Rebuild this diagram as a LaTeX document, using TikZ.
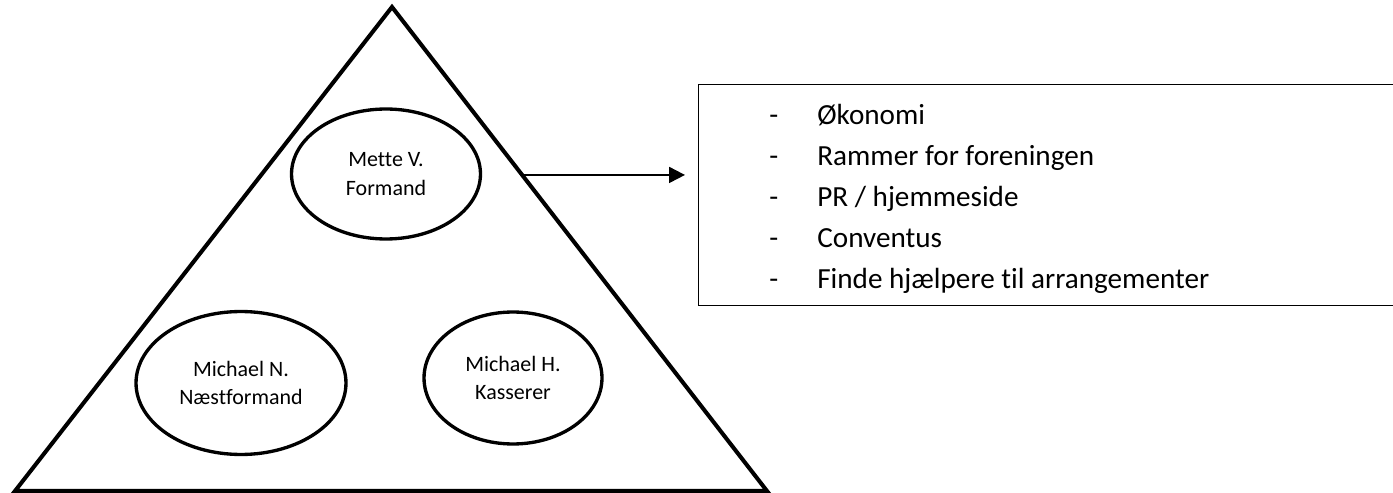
\documentclass[tikz,border=0pt]{standalone}
\usepackage{fontspec}
\setmainfont{Carlito}[Ligatures=CommonOff]
\usetikzlibrary{shapes.geometric,arrows.meta,calc}

\begin{document}
\begin{tikzpicture}[x=0.02cm,y=-0.02cm,
    member/.style={draw,ellipse,line width=1.9pt,inner sep=0pt,align=center,
      font=\fontsize{12.5}{16.4}\selectfont},
    task/.style={anchor=base west,inner sep=0pt,font=\fontsize{16.6}{19}\selectfont}]
  \useasboundingbox (0,0) rectangle (1393,493);
  % pyramid
  \coordinate (apex) at (392,7);
  \coordinate (left) at (15,491);
  \coordinate (right) at (767,491);
  \draw[line width=2.3pt] (apex) -- (left) -- (right) -- cycle;
  % board members
  \node[member,minimum width=3.78cm,minimum height=2.6cm] (formand) at (386,174) {Mette V.\\Formand};
  \node[member,minimum width=4.2cm,minimum height=2.86cm] (naestformand) at (241,383) {Michael N.\\Næstformand};
  \node[member,minimum width=3.56cm,minimum height=2.64cm] (kasserer) at (513,378) {Michael H.\\Kasserer};
  % tasks
  \node[draw,line width=0.8pt,anchor=north west,minimum width=14.2cm,minimum height=4.42cm] (tasks) at (698,84) {};
  \coordinate (side) at ($(apex)!0.347!(right)$);
  \draw[line width=1.1pt,-{Triangle[length=9pt,width=9pt]},shorten >=13*0.02cm] (side) -- (side -| tasks.west);
  \foreach \txt [count=\i] in {Økonomi, Rammer for foreningen, {PR / hjemmeside}, Conventus, Finde hjælpere til arrangementer}{
    \node[task] (dash\i) at (769,84+41*\i) {-};
    \node[task] (item\i) at (817,84+41*\i) {\txt};
  }
\end{tikzpicture}
\end{document}
